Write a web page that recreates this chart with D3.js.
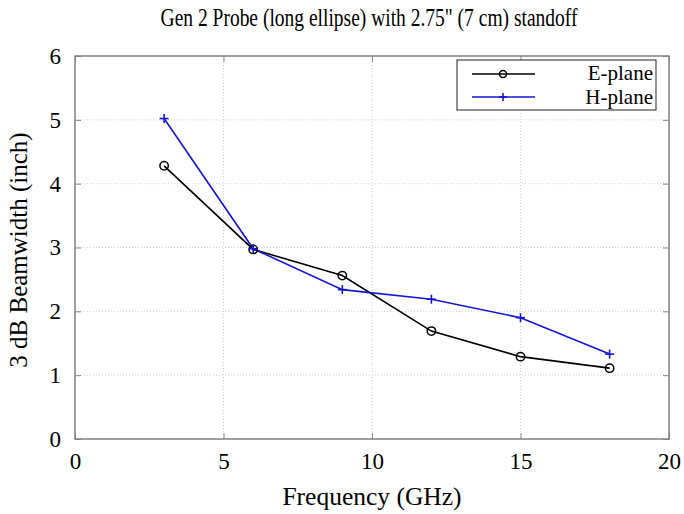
<!DOCTYPE html>
<html><head><meta charset="utf-8">
<script src="https://cdn.jsdelivr.net/npm/d3@7"></script>
<style>body{margin:0;background:#fff}svg{display:block}text{font-family:"Liberation Serif","DejaVu Serif",serif}</style>
</head><body>
<svg id="c" width="684" height="514"></svg>
<script>
const freq = [3, 6, 9, 12, 15, 18];
const ePlane = [4.28, 2.97, 2.56, 1.69, 1.29, 1.11];
const hPlane = [5.02, 2.98, 2.34, 2.19, 1.90, 1.33];
const xTicks = [0, 5, 10, 15, 20];
const yTicks = [0, 1, 2, 3, 4, 5, 6];

const svg = d3.select("#c");
const L = 75, R = 669, T = 56, B = 439;
const x = d3.scaleLinear().domain([0, 20]).range([L, R]);
const y = d3.scaleLinear().domain([0, 6]).range([B, T]);

// grid
svg.append("g").selectAll("line").data(xTicks.slice(1, -1)).join("line")
  .attr("x1", d => x(d)).attr("x2", d => x(d)).attr("y1", T).attr("y2", B)
  .attr("stroke", "#cfcfcf").attr("stroke-width", 1).attr("stroke-dasharray", "1,2");
svg.append("g").selectAll("line").data(yTicks.slice(1, -1)).join("line")
  .attr("y1", d => y(d)).attr("y2", d => y(d)).attr("x1", L).attr("x2", R)
  .attr("stroke", "#cfcfcf").attr("stroke-width", 1).attr("stroke-dasharray", "1,2");

// axes
const ax = g => g.selectAll("path").attr("stroke", "none");
const fmt = d3.format("d");
svg.append("g").attr("transform", `translate(0,${B})`)
  .call(d3.axisBottom(x).tickValues(xTicks).tickFormat(fmt).tickSize(-6).tickPadding(14))
  .call(ax).call(g => g.selectAll("line").attr("stroke", "#888"))
  .call(g => g.selectAll("text").attr("font-size", 23).attr("fill", "#000").attr("font-family", "Liberation Serif"));
svg.append("g").attr("transform", `translate(0,${T})`)
  .call(d3.axisTop(x).tickValues(xTicks).tickSize(-6).tickFormat(""))
  .call(ax).call(g => g.selectAll("line").attr("stroke", "#888"));
svg.append("g").attr("transform", `translate(${L},0)`)
  .call(d3.axisLeft(y).tickValues(yTicks).tickFormat(fmt).tickSize(-6).tickPadding(14))
  .call(ax).call(g => g.selectAll("line").attr("stroke", "#888"))
  .call(g => g.selectAll("text").attr("font-size", 23).attr("fill", "#000").attr("font-family", "Liberation Serif"));
svg.append("g").attr("transform", `translate(${R},0)`)
  .call(d3.axisRight(y).tickValues(yTicks).tickSize(-6).tickFormat(""))
  .call(ax).call(g => g.selectAll("line").attr("stroke", "#888"));

svg.append("rect").attr("x", L).attr("y", T).attr("width", R - L).attr("height", B - T)
  .attr("fill", "none").attr("stroke", "#808080").attr("stroke-width", 1.5);

// lines
const line = d3.line().x(d => x(d[0])).y(d => y(d[1]));
const eData = freq.map((f, i) => [f, ePlane[i]]);
const hData = freq.map((f, i) => [f, hPlane[i]]);
svg.append("path").datum(eData).attr("d", line).attr("fill", "none").attr("stroke", "#000").attr("stroke-width", 1.6);
svg.append("path").datum(hData).attr("d", line).attr("fill", "none").attr("stroke", "#1515d0").attr("stroke-width", 1.6);
svg.append("g").selectAll("circle").data(eData).join("circle")
  .attr("cx", d => x(d[0])).attr("cy", d => y(d[1])).attr("r", 4.2)
  .attr("fill", "none").attr("stroke", "#000").attr("stroke-width", 1.5);
const plus = (g, cx, cy, s, c) => {
  g.append("line").attr("x1", cx - s).attr("x2", cx + s).attr("y1", cy).attr("y2", cy).attr("stroke", c).attr("stroke-width", 1.6);
  g.append("line").attr("x1", cx).attr("x2", cx).attr("y1", cy - s).attr("y2", cy + s).attr("stroke", c).attr("stroke-width", 1.6);
};
const hg = svg.append("g");
hData.forEach(d => plus(hg, x(d[0]), y(d[1]), 4.5, "#1515d0"));

// legend
svg.append("rect").attr("x", 457).attr("y", 60).attr("width", 199).attr("height", 50)
  .attr("fill", "#fff").attr("stroke", "#222").attr("stroke-width", 1);
svg.append("line").attr("x1", 472).attr("x2", 535).attr("y1", 74).attr("y2", 74).attr("stroke", "#000").attr("stroke-width", 1.6);
svg.append("circle").attr("cx", 503).attr("cy", 74).attr("r", 3.5).attr("fill", "none").attr("stroke", "#000").attr("stroke-width", 1.5);
svg.append("line").attr("x1", 472).attr("x2", 535).attr("y1", 97).attr("y2", 97).attr("stroke", "#1515d0").attr("stroke-width", 1.6);
plus(svg, 503, 97, 4, "#1515d0");
svg.append("text").attr("x", 653).attr("y", 79.5).attr("text-anchor", "end").attr("font-size", 21).text("E-plane");
svg.append("text").attr("x", 653).attr("y", 103.5).attr("text-anchor", "end").attr("font-size", 21).text("H-plane");

// titles
svg.append("text").attr("transform", "translate(369,26) scale(1,1.25)").attr("text-anchor", "middle").attr("font-size", 19.5).text("Gen 2 Probe (long ellipse) with 2.75\" (7 cm) standoff");
svg.append("text").attr("x", 372).attr("y", 505).attr("text-anchor", "middle").attr("font-size", 25.5).text("Frequency (GHz)");
svg.append("text").attr("transform", "translate(27,250) rotate(-90)").attr("text-anchor", "middle").attr("font-size", 25).text("3 dB Beamwidth (inch)");
</script>
</body></html>
